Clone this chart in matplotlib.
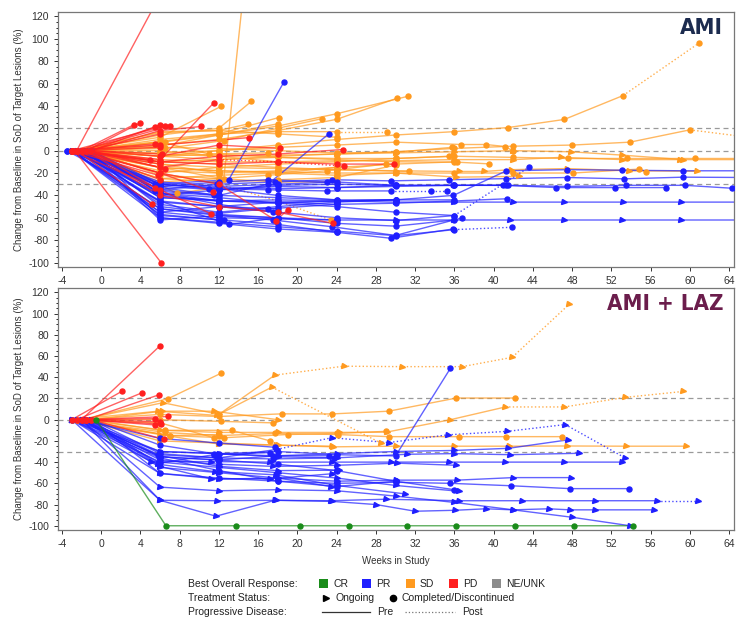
import matplotlib
matplotlib.use("Agg")
import matplotlib.pyplot as plt
from matplotlib.lines import Line2D
from matplotlib.patches import Rectangle
from matplotlib.ticker import MultipleLocator, AutoMinorLocator

plt.rcParams['font.family'] = ['Liberation Sans', 'DejaVu Sans']
plt.rcParams['axes.unicode_minus'] = False

colors = {'CR': '#1a8c1a', 'PR': '#1f1fff', 'SD': '#ff9a1f', 'PD': '#ff1f1f', 'NE': '#8c8c8c'}

# ---------------- AMI panel ----------------
# best response, ongoing(1)/discontinued(0), visit weeks, % change, index where post-PD part starts (0 = none)
ami_resp = (['SD'] * 34) + (['PR'] * 32) + (['PD'] * 30) + ['NE']
ami_ongoing = [0, 0, 0, 0, 0, 0, 0, 0, 0, 0, 0, 0, 1, 1, 1, 0, 0, 0, 0, 0, 0, 0, 0, 0, 0, 0, 0, 0, 0, 0, 1, 0, 0, 0,
               0, 1, 1, 0, 0, 0, 0, 0, 0, 0, 0, 0, 0, 0, 0, 0, 0, 0, 0, 0, 0, 0, 0, 0, 0, 0, 0, 0, 0, 0, 0, 0,
               0, 0, 0, 0, 0, 0, 0, 0, 0, 0, 0, 0, 0, 0, 0, 0, 0, 0, 0, 0, 0, 0, 0, 0, 0, 0, 0, 0, 0, 0, 0]
ami_post = [10, 11, 0, 0, 0, 0, 0, 0, 0, 0, 0, 0, 0, 0, 0, 0, 0, 0, 5, 0, 0, 0, 3, 0, 0, 0, 0, 0, 0, 0, 0, 0, 0, 0,
            0, 0, 0, 7, 0, 0, 0, 0, 7, 6, 0, 0, 0, 0, 0, 0, 0, 0, 0, 0, 0, 0, 0, 0, 0, 0, 0, 0, 0, 0, 0, 0,
            0, 0, 0, 0, 0, 0, 0, 0, 0, 0, 0, 0, 0, 0, 0, 0, 0, 0, 0, 0, 4, 0, 0, 0, 3, 0, 0, 0, 0, 0]
ami_weeks = [
    [-3.0, 6, 12, 18, 24, 30, 36, 41.5, 47.2, 53.2, 60.9],
    [-2.0, 6, 12, 18, 24, 30, 36, 42, 48, 53.9, 60, 66],
    [-2.5, 6, 12, 18, 24, 30.2],
    [-1.0, 6.5, 12, 18, 24, 31.3],
    [-3.0, 6, 12.2],
    [-2.0, 6, 12, 15.3],
    [-1.5, 6, 12, 18.1],
    [-2.0, 6.5, 12.5, 18, 22.5],
    [-3.0, 6, 12, 15],
    [-2.0, 6, 12, 18],
    [-3.0, 6, 12.5, 17.0],
    [-1.0, 6, 12, 18, 24, 30, 36, 42, 47.6, 53.6, 60.5, 66],
    [-2.0, 6, 12, 18, 24, 30, 36, 42, 46.9, 53.1, 59, 66],
    [-2.5, 6, 12, 18, 24, 30, 36.2, 42.6],
    [-3.0, 6, 12, 18, 24, 30, 36.5, 39, 41.8, 47.5, 53.8, 60.7],
    [-1.0, 6, 12, 18, 24, 31.4],
    [-2.0, 6, 12, 18, 24, 30, 36.3, 39.5],
    [-3.0, 6, 12, 18, 24, 30, 36.7, 39.2, 41.2, 42],
    [-2.0, 6, 12, 18, 24, 29.1],
    [-1.5, 6, 12, 18, 24, 30, 35.8],
    [-2.0, 6, 12, 18, 24, 30, 35.5],
    [-3.0, 6, 12, 18, 24, 30],
    [-2.0, 6, 12, 18, 23.4],
    [-1.0, 6, 12, 18, 24],
    [-2.5, 6, 12, 18],
    [-3.0, 6, 12],
    [-2.0, 6, 12, 18, 24],
    [-1.0, 7.7, 12],
    [-2.0, 6, 12, 18, 24],
    [-3.0, 6, 12, 18, 24, 30, 36],
    [-2.5, 6, 12, 18, 24, 30, 36, 42, 47.9, 53.1, 59.3],
    [-1.5, 6, 12, 18, 24, 30, 36, 42, 48.1, 54.8, 55.5],
    [-2.0, 6, 12, 17, 23, 29],
    [-3.0, 6, 11, 17],
    # PR
    [-3.5, 6, 12, 18, 24, 30, 36, 41.5, 47.5, 53.5, 59.5, 64.3],
    [-3.0, 6, 12, 18, 24, 30, 36, 42, 47.2, 53.2, 59.1, 66],
    [-2.5, 6, 12, 18, 24, 30, 36, 41.7, 47.2, 53.1, 59.1, 66],
    [-1.0, 6, 12, 18, 24, 30, 36, 41.9],
    [-2.0, 6, 12.5, 18, 24, 29.5, 35.9],
    [-3.0, 6, 12, 17.5, 23.5, 30, 36.8],
    [-3.5, 6, 12, 18, 24, 30, 36],
    [-2.0, 6, 12, 18, 24, 30, 35.9, 41.3, 47.5, 53.1, 59.3, 66],
    [-1.5, 6, 12, 18, 24, 30, 36, 43.6],
    [-3.0, 6, 11, 17, 23, 29.5, 33.6, 35.2],
    [-2.5, 5.5, 13, 18.6],
    [-1.0, 6, 12, 17, 23.2],
    [-2.0, 6, 12, 18, 24, 30, 36, 41.4],
    [-3.0, 6, 12, 18, 24, 30],
    [-2.0, 6, 12, 18, 24, 30],
    [-1.5, 6, 12, 17, 24],
    [-3.0, 6, 12, 18, 24],
    [-2.5, 6, 13, 18],
    [-1.0, 6, 12, 17.5],
    [-2.0, 6, 12],
    [-3.0, 5.5, 11.5],
    [-1.0, 6, 12, 18, 24],
    [-2.0, 6, 12, 18, 24, 29.9, 35.9, 41.3],
    [-3.0, 6, 12, 18, 24, 30, 36],
    [-2.0, 6, 11.8, 17.7, 23.5, 29.5, 35.5, 41.3, 47.5, 53.3, 59.3, 66],
    [-1.5, 6, 12, 18, 24],
    [-2.0, 6, 12, 17, 23],
    [-3.0, 6, 12, 18, 24, 30, 36],
    [-2.5, 6, 12, 18],
    [-1.0, 6, 12, 18, 24, 30],
    [-3.0, 6, 12],
    [-2.0, 6, 12, 18, 24, 30, 36, 41, 46.4, 52.4, 57.6],
    # PD
    [-2.5, 6], [-2.7, 6.1], [-2.0, 3.3], [-1.5, 4.0], [-2.0, 5.5], [-1.0, 6.0], [-3.0, 6.5],
    [-2.0, 7.0], [-1.5, 6.0], [-3.0, 5.5], [-2.0, 6.0], [-1.0, 6.2], [-2.5, 5.0], [-2.0, 6.0],
    [-1.0, 6.5], [-3.0, 5.8], [-2.0, 6.0], [-1.0, 5.5], [-2.5, 5.2],
    [-2.0, 6, 11.5],
    [-3.0, 6, 11.2],
    [-2.0, 6, 12, 17.8, 19],
    [-1.0, 6, 12, 18.2],
    [-3.0, 6, 12, 18, 24.6],
    [-2.0, 6, 12, 18, 24.7],
    [-1.5, 6, 12, 18, 23.6],
    [-3.0, 6, 15.1],
    [-2.0, 6, 12, 18, 24, 29.8],
    [-2.5, 6, 11.4],
    [-1.0, 6, 10.2],
    # NE
    [-1.5, 5.5],
]
ami_pct = [
    [0, -5, 0, 5, 10, 14, 17, 20.7, 27.9, 49.3, 96],
    [0, -10, -8, -5, -3, -1, 2, 4, 5, 7.6, 18.6, 12],
    [0, 5, 10, 18, 28, 47],
    [0, 8, 14, 22, 33, 48.7],
    [0, 12, 39.5],
    [0, 14, 20, 44],
    [0, 8, 15, 29.6],
    [0, 2, 9, 20, 28.6],
    [0, 16, 18, 24],
    [0, 4, 14, 24],
    [0, -15, -25, 350],
    [0, -5, -8, -6, -7, -7, -5, -6, -7, -7, -7, -7],
    [0, -8, -10, -10, -9, -9, -8, -8, -6, -8, -8, -8],
    [0, -15, -18, -20, -22, -20, -23.7, -23],
    [0, -12, -15, -16, -17, -18, -18.6, -18.6, -17, -16, -18, -18.4],
    [0, -10, -12, -15, -17, -18.6],
    [0, -5, -3, -6, -8, -10, -10.3, -11.8],
    [0, -2, 0, 3, 5, 7.6, 5.5, 5.5, 3.7, -0.5],
    [0, 10, 15, 17, 17, 17],
    [0, 3, 2, 0, -2, -1.4, 3],
    [0, -20, -15, -12, -10, -7, -5],
    [0, -25, -28, -26, -24, -13],
    [0, -20, -30, -45, -62],
    [0, -22, -25, -28, -28],
    [0, 0, -5, -10],
    [0, -18, -20],
    [0, -12, -20, -18, -15],
    [0, -38, -33],
    [0, 17, 18, 15, 12],
    [0, -25, -22, -20, -15, -12, -10],
    [0, -3, -5, -4, -3, -2, -1, 0, -1, -4, -8],
    [0, -15, -18, -19, -20, -20, -20, -20, -20, -16.5, -18.7],
    [0, -28, -25, -22, -18, -12],
    [0, 8, -3, -2],
    # PR
    [0, -32, -35, -31, -30, -31, -31, -31, -32, -31, -31, -33.6],
    [0, -40, -45, -44, -45, -46, -46, -46, -46, -46, -46, -46],
    [0, -55, -60, -61, -62, -62, -62, -62, -62, -62, -62, -62],
    [0, -60, -64, -68, -72, -76, -70.6, -68.5],
    [0, -58, -62, -66, -73, -78.3, -70],
    [0, -52, -58, -62, -68, -75.8, -60],
    [0, -45, -50, -55, -60, -62.5, -58],
    [0, -35, -40, -42, -44, -44, -40, -18, -17, -17.5, -18, -18],
    [0, -38, -42, -47, -50, -55, -58, -14.8],
    [0, -30, -34, -35, -36, -36, -36, -36],
    [0, -30, -26, 61],
    [0, -33, -40, -30, 15],
    [0, -42, -45, -46, -48, -47, -45, -43],
    [0, -28, -32, -30, -28, -31],
    [0, -48, -55, -50, -46, -44],
    [0, -50, -56, -52, -48],
    [0, -60, -65, -70, -73],
    [0, -45, -66, -60],
    [0, -38, -48, -55],
    [0, -42, -44],
    [0, -36, -40],
    [0, -30, -34, -40, -44],
    [0, -40, -35, -32, -33, -31, -31, -31],
    [0, -55, -50, -46, -45, -44, -44],
    [0, -35, -30, -28, -26, -27, -26, -25, -24, -25.2, -23.7, -24],
    [0, -62, -58, -60, -62],
    [0, -32, -28, -26, -28],
    [0, -52, -57, -60, -65, -67.5, -62],
    [0, -46, -50, -52],
    [0, -38, -45, -47, -45, -44],
    [0, -57, -62],
    [0, -30, -33, -34, -33, -32, -31, -31, -33, -33, -33],
    # PD
    [0, 139], [0, -100], [0, 23], [0, 25], [0, 21], [0, 23], [0, 22],
    [0, 22], [0, 15], [0, 6], [0, 3], [0, -3], [0, -8], [0, -12],
    [0, -16], [0, -22], [0, -26], [0, -33], [0, -48],
    [0, -8, 43],
    [0, -35, -56.5],
    [0, -20, -30, -62.5, -53],
    [0, -5, 5, 2],
    [0, -10, -5, -3, 1],
    [0, -15, -8, -10, -13.8],
    [0, -40, -50, -55, -65],
    [0, 5, 11.7],
    [0, -10, -12, -10, -12, -12],
    [0, -20, -37],
    [0, 18, 21.6],
    # NE
    [0, -18],
]

# ---------------- AMI + LAZ panel ----------------
laz_resp = (['SD'] * 14) + (['PR'] * 22) + (['PD'] * 10) + ['CR']
laz_ongoing = [0, 1, 1, 0, 1, 1, 0, 0, 0, 0, 1, 1, 0, 0,
               1, 0, 1, 1, 1, 1, 0, 1, 0, 1, 1, 1, 1, 0, 0, 1, 0, 0, 1, 1, 0, 1,
               0, 0, 0, 0, 0, 0, 0, 0, 0, 0, 0]
laz_post = [0, 4, 4, 0, 8, 0, 0, 0, 0, 0, 0, 0, 0, 0,
            0, 0, 4, 0, 0, 0, 0, 0, 0, 10, 0, 0, 0, 0, 0, 0, 0, 0, 0, 0, 0, 0,
            0, 0, 0, 0, 0, 0, 0, 0, 0, 0, 0]
laz_weeks = [
    [-2.0, 6.8, 12.2],
    [-2.0, 6.3, 12, 17.7, 24.7, 30.7, 36.8, 41.9, 47.7],
    [-3.0, 5.8, 11.8, 17.4, 28.5],
    [-2.0, 6, 12, 18.4, 23.5, 29.3, 36.2, 42.2],
    [-1.0, 6, 12, 18, 24.2, 29.1, 35.6, 41.2, 47.2, 53.4, 59.3],
    [-2.0, 6, 12, 18, 23.6, 30, 36, 41.6, 47.5, 53.5, 59.6],
    [-3.0, 6.5, 12, 17.7, 24.1, 29.3, 36.5, 41.3, 47],
    [-2.5, 7, 12.5, 19, 24, 29],
    [-1.5, 6, 12.2, 17.5],
    [-2.0, 6.5, 13.3, 17.2],
    [-3.0, 6, 12, 17.8, 23.5],
    [-1.0, 6.2, 11.5, 18],
    [-2.5, 6, 11.5],
    [-3.0, 7, 12],
    # PR
    [-3.0, 5.1, 11.2, 17.2, 23.5, 29.5, 35.5, 41.2, 47.2, 53.1],
    [-2.0, 6, 12, 18, 24, 30, 35.6],
    [-1.0, 6, 12, 17.9, 23.5, 29.3, 35.3, 41.4, 47.3, 53.4],
    [-2.0, 6, 12, 18, 24, 30, 36, 41.5, 47.6],
    [-3.0, 6, 12, 18, 24, 31.2, 36, 41.7, 48.7],
    [-2.0, 6, 12, 18, 24, 30, 36.3, 42, 47.9],
    [-1.0, 6, 12, 18, 24, 30, 35.6, 41.8, 47.8, 53.8],
    [-3.0, 6, 12, 18, 24, 30, 36.5],
    [-2.0, 6, 12, 18, 24, 30, 36],
    [-2.0, 6, 11.8, 17.8, 23.4, 29, 36.5, 42.9, 50.3, 56.7, 60.8],
    [-3.0, 6, 11.7, 17.7, 23.5, 28, 32, 36.1, 39.2, 42, 45.6, 47.8, 50.3, 56.3],
    [-2.0, 6, 12, 18, 24, 30, 36, 42, 48, 53.9],
    [-1.5, 6, 11.2, 17.2, 23.5, 24.2],
    [-2.0, 6, 12, 17.7],
    [-1.0, 6, 11.5, 17.5, 23.2],
    [-2.5, 6, 12, 18, 24],
    [-3.0, 6, 12, 18, 24, 30],
    [-1.5, 5.8, 11.8, 17.5, 23.7],
    [-2.0, 6, 12, 17.5, 24, 30.2, 36.2],
    [-1.0, 5.8, 11.6, 17.8, 24, 31],
    [-2.0, 6.0, 11.5, 17.2],
    [-3.0, 6.0, 12.0, 18.0, 23.4],
    # PD
    [-2.0, 6.0], [-3.0, 2.1], [-2.5, 4.2], [-1.5, 5.9], [-2.0, 5.5],
    [-1.0, 6.0], [-2.0, 6.1], [-1.5, 5.5], [-1.0, 6.4], [-1.5, 6.8],
    # CR
    [-0.5, 6.6, 13.7, 20.3, 25.3, 31.2, 36.2, 42.2, 48.2, 54.2],
]
laz_pct = [
    [0, 19.7, 43.7],
    [0, 16, 5, 42, 50.4, 50, 50, 58.8, 108.8],
    [0, 8, 4, 30.7, -22],
    [0, 5, 3, 5.5, 5.4, 8, 20.4, 20.4],
    [0, -10, -12, -12, -12, -11.7, 0, 12, 12, 21, 26.6],
    [0, -20, -22, -24, -25.6, -25, -25, -25, -24.8, -25, -25],
    [0, -12, -15, -13, -14, -16, -16, -16, -16],
    [0, -15, -17, -14, -13, -11],
    [0, 0, -1.6, -3],
    [0, -10, -10, -20],
    [0, -14, -23, -24, -25],
    [0, 8, 8, 0],
    [0, -3, -17],
    [0, -15, -14],
    # PR
    [0, -39.5, -39.5, -40, -40, -40, -40, -40, -40, -40],
    [0, -30, -32, -30, -33, -34.2, 48.5],
    [0, -32, -36, -28, -17, -21.6, -14.3, -11, -4.6, -36],
    [0, -35, -38, -34, -32, -30, -29, -27, -19],
    [0, -30, -32, -35, -36, -32.6, -32, -33, -31.7],
    [0, -45, -50, -55, -58, -57, -57, -54.6, -54.6],
    [0, -50.7, -55, -58, -60, -59, -60, -62.3, -65, -65],
    [0, -40, -45, -50, -55, -62, -67.5],
    [0, -35, -38, -42, -48, -58, -66],
    [0, -76, -76.4, -76, -76.4, -75, -76.4, -76.4, -76.4, -76.4, -76.4],
    [0, -76, -91, -76, -77, -80, -86.3, -85.4, -84, -85, -84, -85, -85, -85],
    [0, -63.6, -67, -66, -67, -72, -78, -85, -92, -100],
    [0, -44, -55.7, -55.8, -51, -47.6],
    [0, -17.7, -22, -26],
    [0, -24, -32, -34, -34],
    [0, -34, -44, -48, -47.6],
    [0, -36, -48, -58, -63, -58],
    [0, -33, -36, -37, -36],
    [0, -38, -42, -44, -43, -41, -43],
    [0, -42, -49, -52, -62, -70],
    [0, -41, -33, -31],
    [0, -50.7, -56, -55, -63],
    # PD
    [0, 69.7], [0, 26.7], [0, 25.5], [0, 23.5], [0, 1],
    [0, -2], [0, -4], [0, -5], [0, -18.6], [0, 3],
    # CR
    [0, -100, -100, -100, -100, -100, -100, -100, -100, -100],
]


def draw_panel(ax, resp, ongoing, weeks, pct, post, title, title_color):
    for w, v, r, on, p in zip(weeks, pct, resp, ongoing, post):
        c = colors[r]
        n = p if p else len(w)
        ax.plot(w[:n], v[:n], '-', color=c, lw=1.0, alpha=0.7, zorder=2)
        if p:
            ax.plot(w[p - 1:], v[p - 1:], ':', color=c, lw=1.0, alpha=0.8, zorder=2)
        ax.plot(w, v, '>' if on else 'o', color=c, ms=3.6, ls='none', zorder=3)
    for y in (20, 0, -30):
        ax.axhline(y, color='#9a9a9a', lw=0.9, ls=(0, (4, 3)), zorder=1)
    ax.set_xlim(-4.4, 64.5)
    ax.set_ylim(-104, 124)
    ax.xaxis.set_major_locator(MultipleLocator(4))
    ax.yaxis.set_major_locator(MultipleLocator(20))
    ax.yaxis.set_minor_locator(AutoMinorLocator(4))
    ax.tick_params(labelsize=7.5, colors='#333333', length=3, width=0.7)
    ax.tick_params(which='minor', length=1.8, width=0.6)
    for s in ax.spines.values():
        s.set_color('#777777')
        s.set_linewidth(0.9)
    ax.set_ylabel('Change from Baseline in SoD of Target Lesions (%)', fontsize=7, color='#333333', labelpad=3)
    ax.text(0.984, 0.975, title, transform=ax.transAxes, ha='right', va='top', fontsize=16,
            fontweight='bold', fontstretch='condensed', color=title_color, family='DejaVu Sans')


fig = plt.figure(figsize=(7.38, 6.17), dpi=100)
ax1 = fig.add_axes([0.0786, 0.5673, 0.916, 0.4133])
ax2 = fig.add_axes([0.0786, 0.141, 0.916, 0.392])

draw_panel(ax1, ami_resp, ami_ongoing, ami_weeks, ami_pct, ami_post, 'AMI', '#1c2b4f')
draw_panel(ax2, laz_resp, laz_ongoing, laz_weeks, laz_pct, laz_post, 'AMI + LAZ', '#6b1d4c')
ax2.set_xlabel('Weeks in Study', fontsize=7, color='#333333', labelpad=5)


# legend drawn in figure pixels
def fx(px):
    return px / 738.0


def fy(py):
    return 1 - py / 617.0


rows = [(584, 'Best Overall Response:'), (598, 'Treatment Status:'), (612, 'Progressive Disease:')]
for py, txt in rows:
    fig.text(fx(188), fy(py), txt, fontsize=7.5, va='center', ha='left', color='#222222')

resp_keys = [('CR', 'CR', 323), ('PR', 'PR', 366), ('SD', 'SD', 410), ('PD', 'PD', 453), ('NE', 'NE/UNK', 496)]
for key, lab, px in resp_keys:
    fig.add_artist(Rectangle((fx(px - 4), fy(588)), fx(9), fy(579) - fy(588),
                             transform=fig.transFigure, color=colors[key], lw=0))
    fig.text(fx(px + 10), fy(584), lab, fontsize=7.5, va='center', ha='left', color='#222222')

fig.add_artist(Line2D([fx(326)], [fy(598)], marker='>', color='black', ms=4.5, transform=fig.transFigure))
fig.text(fx(335), fy(598), 'Ongoing', fontsize=7.5, va='center', ha='left', color='#222222')
fig.add_artist(Line2D([fx(393)], [fy(598)], marker='o', color='black', ms=4.5, transform=fig.transFigure))
fig.text(fx(402), fy(598), 'Completed/Discontinued', fontsize=7.5, va='center', ha='left', color='#222222')

fig.add_artist(Line2D([fx(322), fx(370)], [fy(612), fy(612)], color='#333333', lw=0.9, transform=fig.transFigure))
fig.text(fx(377), fy(612), 'Pre', fontsize=7.5, va='center', ha='left', color='#222222')
fig.add_artist(Line2D([fx(405), fx(455)], [fy(612), fy(612)], color='#777777', lw=0.9, ls=':',
                      transform=fig.transFigure))
fig.text(fx(462), fy(612), 'Post', fontsize=7.5, va='center', ha='left', color='#222222')

fig.savefig('out.png', dpi=100, facecolor='white')
